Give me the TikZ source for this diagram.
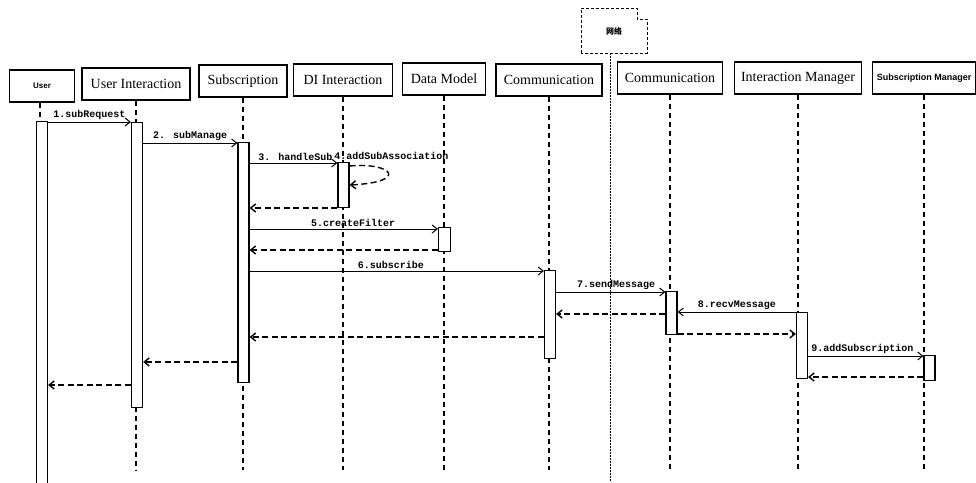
\documentclass[tikz,border=0pt]{standalone}
\usepackage{fontspec}
\setmainfont{Liberation Serif}
\newfontfamily\msgfont{Liberation Mono}
\newfontfamily\smallsans{Liberation Sans}
\newfontfamily\cjkfont{Noto Sans CJK SC}
\usetikzlibrary{positioning, arrows.meta}

\begin{document}
\begin{tikzpicture}[x=1pt, y=-1pt, >={Straight Barb[length=5pt, width=8pt]},
	obj/.style={draw, rectangle, line width=1.2pt, minimum height=32pt, inner sep=2pt, font=\fontsize{14}{16}\selectfont},
	act/.style={draw, rectangle, line width=1.2pt, fill=white, minimum width=11pt, inner sep=0pt, anchor=north},
	life/.style={line width=1.1pt, dash pattern=on 5pt off 4pt},
	call/.style={->, line width=1pt},
	ret/.style={->, line width=1.4pt, dash pattern=on 6pt off 3.5pt},
	lbl/.style={above, inner sep=1.5pt, font=\msgfont\bfseries\fontsize{10}{11}\selectfont}]
		\useasboundingbox (0, 0) rectangle (976, 482);

		\node[obj, minimum width=65pt, font=\smallsans\bfseries\fontsize{8}{9}\selectfont] (user) at (42, 86) {User};
		\node[obj, minimum width=108pt] (ui) at (136, 84) {User Interaction};
		\node[obj, minimum width=88pt] (sub) at (243, 81) {Subscription};
		\node[obj, minimum width=99pt] (di) at (343, 80) {DI Interaction};
		\node[obj, minimum width=83pt] (dm) at (444, 79) {Data Model};
		\node[obj, minimum width=106pt] (comA) at (549, 80) {Communication};
		\node[obj, minimum width=105pt] (comB) at (670, 78) {Communication};
		\node[obj, minimum width=127pt] (im) at (798, 78) {Interaction Manager};
		\node[obj, minimum width=103pt, font=\smallsans\bfseries\fontsize{9}{10}\selectfont] (sm) at (924, 78) {Subscription Manager};

		\node[font=\cjkfont\bfseries\fontsize{8}{9}\selectfont] (net) at (614, 31) {网络};
		\draw[line width=0.9pt, dash pattern=on 3pt off 2pt] (581, 53) -- (581, 8) -- (637, 8) -- (637, 19) -- (647, 19) -- (647, 53) -- cycle;
		\coordinate (netb) at (610, 53);
		\coordinate (bot) at (0, 470);

		\draw[life] (user.south -| 40, 0) -- (40, 121);
		\draw[life] (ui.south) -- (ui.south |- bot);
		\draw[life] (sub.south) -- (sub.south |- bot);
		\draw[life] (di.south) -- (di.south |- bot);
		\draw[life] (dm.south) -- (dm.south |- bot);
		\draw[life] (comA.south) -- (comA.south |- bot);
		\draw[life] (comB.south) -- (comB.south |- bot);
		\draw[life] (im.south) -- (im.south |- bot);
		\draw[life] (sm.south) -- (sm.south |- bot);
		\draw[line width=1pt, dash pattern=on 1.5pt off 1.5pt] (netb) -- (610, 482);

		\node[act, minimum height=362pt] (userA) at (42, 121) {};
		\node[act, minimum height=285pt] (uiA) at (137, 122) {};
		\node[act, minimum height=240pt] (subA) at (243.5, 142) {};
		\node[act, minimum height=45pt] (diA) at (343.5, 162) {};
		\node[act, minimum height=24pt, minimum width=12pt] (dmA) at (444.5, 227) {};
		\node[act, minimum height=88pt] (comAA) at (550, 270) {};
		\node[act, minimum height=43pt] (comBA) at (671.5, 291) {};
		\node[act, minimum height=66pt] (imA) at (802, 312) {};
		\node[act, minimum height=25pt] (smA) at (929.5, 355) {};

		\coordinate (m1) at (0, 122);
		\coordinate (m2) at (0, 143);
		\coordinate (m3) at (0, 163);
		\coordinate (s1) at (0, 166);
		\coordinate (s2) at (0, 185);
		\coordinate (r3) at (0, 208);
		\coordinate (m5) at (0, 229);
		\coordinate (r5) at (0, 250);
		\coordinate (m6) at (0, 271);
		\coordinate (m7) at (0, 292);
		\coordinate (m8) at (0, 312);
		\coordinate (r7) at (0, 314);
		\coordinate (r8) at (0, 334);
		\coordinate (r6) at (0, 337);
		\coordinate (m9) at (0, 356);
		\coordinate (r2) at (0, 362);
		\coordinate (r9) at (0, 377);
		\coordinate (r1) at (0, 385);

		\draw[call] (userA.east |- m1) to node[lbl] {1.subRequest} (uiA.west |- m1);
		\draw[call] (uiA.east |- m2) to node[lbl] {2. subManage} (subA.west |- m2);
		\draw[call] (subA.east |- m3) to node[lbl, pos=0.52] {3. handleSub} (diA.west |- m3);
		\node[lbl, anchor=south west] (l4) at ([xshift=-17pt, yshift=1pt]diA.north east) {4.addSubAssociation};
		\draw[ret] (diA.east |- s1) .. controls (392, 162) and (410, 182) .. (diA.east |- s2);
		\draw[ret] (diA.west |- r3) -- (subA.east |- r3);
		\draw[call] (subA.east |- m5) to node[lbl, pos=0.55] {5.createFilter} (dmA.west |- m5);
		\draw[ret] (dmA.west |- r5) -- (subA.east |- r5);
		\draw[call] (subA.east |- m6) to node[lbl, pos=0.48] {6.subscribe} (comAA.west |- m6);
		\draw[call] (comAA.east |- m7) to node[lbl, pos=0.55] {7.sendMessage} (comBA.west |- m7);
		\draw[ret] (comBA.west |- r7) -- (comAA.east |- r7);
		\draw[call] (imA.west |- m8) to node[lbl] {8.recvMessage} (comBA.east |- m8);
		\draw[ret] (comBA.east |- r8) -- (imA.west |- r8);
		\draw[ret] (comAA.west |- r6) -- (subA.east |- r6);
		\draw[call] (imA.east |- m9) to node[lbl, pos=0.47] {9.addSubscription} (smA.west |- m9);
		\draw[ret] (smA.west |- r9) -- (imA.east |- r9);
		\draw[ret] (subA.west |- r2) -- (uiA.east |- r2);
		\draw[ret] (uiA.west |- r1) -- (userA.east |- r1);
	\end{tikzpicture}
\end{document}
